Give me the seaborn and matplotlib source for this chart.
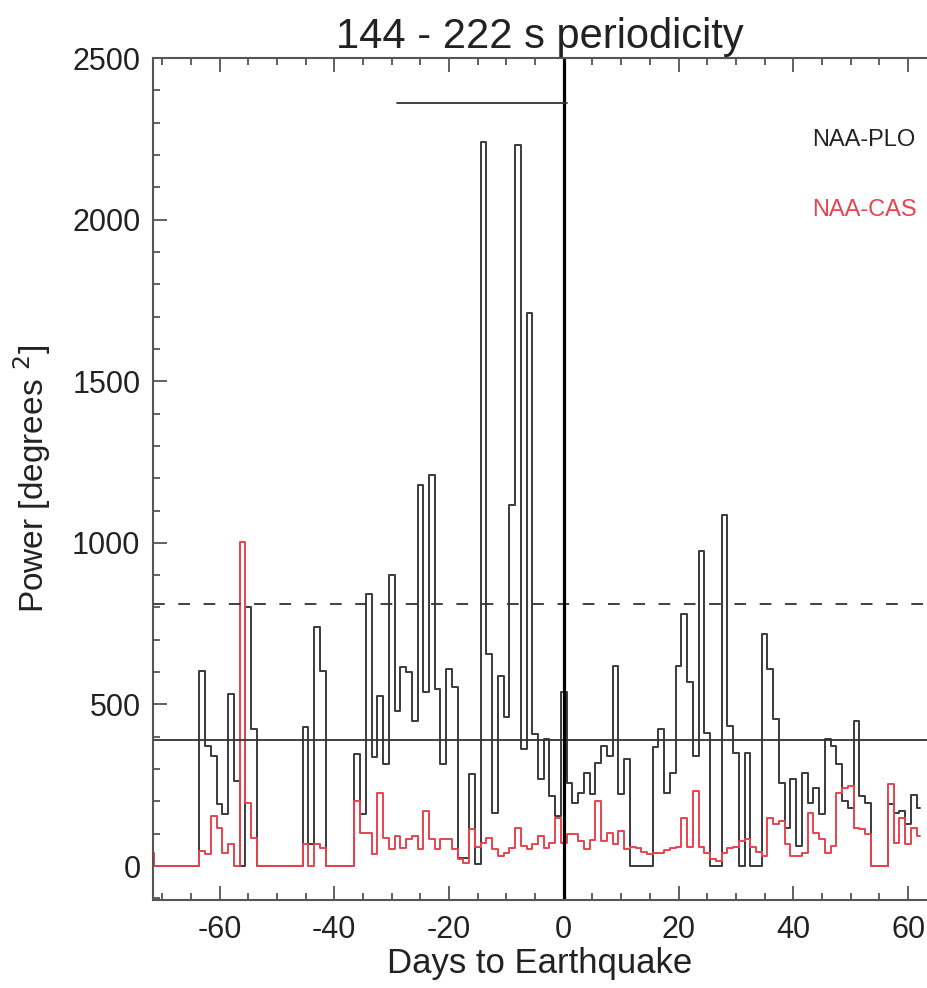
import numpy as np
import pandas as pd
import matplotlib
matplotlib.use("Agg")
import matplotlib.pyplot as plt
import seaborn as sns
from matplotlib.ticker import MultipleLocator

# ---------------- data ----------------
days = list(range(-72, 63))

plo = [0, 0, 0, 0, 0, 0, 0, 0, 0,                      # -72..-64
       604, 372, 341, 191, 160, 532, 263, 0, 800, 424, 0,  # -63..-53
       0, 0, 0, 0, 0, 0, 0,                            # -52..-46
       430, 67, 739, 604, 0,                           # -45..-41
       0, 0, 0, 0,                                     # -40..-37
       346, 160, 842, 336, 527, 315, 899, 480, 615, 600,   # -36..-27
       449, 1180, 537, 1210, 548, 315, 610, 554, 26, 26,   # -26..-17
       284, 5, 2240, 656, 165, 589, 460, 1116, 2230, 362,  # -16..-7
       1710, 408, 269, 393, 217, 155,                  # -6..-1
       537, 258, 196, 227, 289, 222, 320, 372, 341, 620,   # 0..9
       222, 331, 0, 0, 0, 0, 367, 424, 227, 289,       # 10..19
       620, 780, 568, 341, 976, 413, 0, 0, 1085, 434,  # 20..29
       351, 0, 351, 0, 0, 718, 610, 455, 258, 119,     # 30..39
       269, 62, 289, 196, 243, 160, 393, 372, 315, 201,  # 40..49
       180, 449, 217, 196, 0, 0, 0, 191, 165, 170,     # 50..59
       130, 220, 180]                                  # 60..62

cas = [41, 0, 0, 0, 0, 0, 0, 0, 0,                     # -72..-64
       47, 36, 155, 119, 41, 67, 0, 1002, 196, 88, 0,  # -63..-53
       0, 0, 0, 0, 0, 0, 0,                            # -52..-46
       67, 0, 67, 57, 0,                               # -45..-41
       0, 0, 0, 0,                                     # -40..-37
       201, 103, 103, 36, 227, 88, 52, 93, 57, 83,     # -36..-27
       93, 52, 170, 83, 52, 83, 83, 52, 21, 10,        # -26..-17
       114, 60, 72, 88, 52, 30, 40, 57, 119, 62,       # -16..-7
       52, 67, 93, 57, 72, 150,                        # -6..-1
       72, 98, 98, 78, 52, 82, 201, 78, 103, 67,       # 0..9
       108, 52, 60, 55, 45, 36, 41, 41, 50, 55,        # 10..19
       60, 150, 60, 232, 60, 40, 21, 15, 40, 55,       # 20..29
       60, 78, 83, 60, 45, 30, 150, 130, 140, 67,      # 30..39
       30, 30, 41, 165, 103, 83, 41, 62, 227, 243,     # 40..49
       248, 119, 114, 98, 0, 0, 0, 253, 72, 150,       # 50..59
       67, 119, 93]                                    # 60..62

series_names = ["NAA-PLO", "NAA-CAS"]
level_solid = 390
level_dashed = 810
bar_x = [-29, 0.5]
bar_y = 2360

# ---------------- style ----------------
sns.set_style("ticks")
plt.rcParams['font.family'] = ['Liberation Sans', 'DejaVu Sans']
plt.rcParams['axes.unicode_minus'] = False

fig = plt.figure(figsize=(9.27, 9.88), dpi=100)
ax = fig.add_axes([153 / 927, 1 - 900 / 988, (927 - 153) / 927, (900 - 58) / 988])

df = pd.DataFrame({"day": days, series_names[0]: plo, series_names[1]: cas})
long = df.melt(id_vars="day", var_name="series", value_name="power")

sns.lineplot(data=long, x="day", y="power", hue="series", hue_order=series_names,
             palette={"NAA-PLO": "#3a3a3a", "NAA-CAS": "#e8434d"},
             drawstyle="steps-mid", linewidth=1.4, estimator=None,
             legend=False, ax=ax)

ax.axhline(level_solid, color="#333333", lw=1.3)
ax.axhline(level_dashed, color="#333333", lw=1.3, ls=(0, (6.5, 7.5)))
ax.axvline(0, color="black", lw=2.3)
ax.plot(bar_x, [bar_y, bar_y], color="#333333", lw=1.3)

ax.set_xlim(-71.6, 63.3)
ax.set_ylim(-105, 2500)
ax.xaxis.set_major_locator(MultipleLocator(20))
ax.xaxis.set_minor_locator(MultipleLocator(5))
ax.yaxis.set_major_locator(MultipleLocator(500))
ax.yaxis.set_minor_locator(MultipleLocator(100))
ax.tick_params(which="both", direction="in", top=True, right=False,
               color="#555555", width=1.3, labelsize=22, labelcolor="#222222")
ax.tick_params(which="major", length=10)
ax.tick_params(which="minor", length=5)
ax.tick_params(axis="x", pad=11)
ax.tick_params(axis="y", pad=9)

for side in ["left", "bottom", "top"]:
    ax.spines[side].set_color("#555555")
    ax.spines[side].set_linewidth(1.5)
ax.spines["right"].set_visible(False)

ax.set_xlabel("Days to Earthquake", fontsize=25, color="#222222", labelpad=1)
ax.set_ylabel("Power [degrees $^{2}$]", fontsize=24, color="#222222", labelpad=14)
ax.set_title("144 - 222 s periodicity", fontsize=30, color="#222222", pad=7)

ax.text(0.852, 0.903, "NAA-PLO", transform=ax.transAxes, fontsize=17,
        color="#222222", va="center", ha="left")
ax.text(0.852, 0.82, "NAA-CAS", transform=ax.transAxes, fontsize=17,
        color="#e8434d", va="center", ha="left")

fig.savefig("out.png", dpi=100)
